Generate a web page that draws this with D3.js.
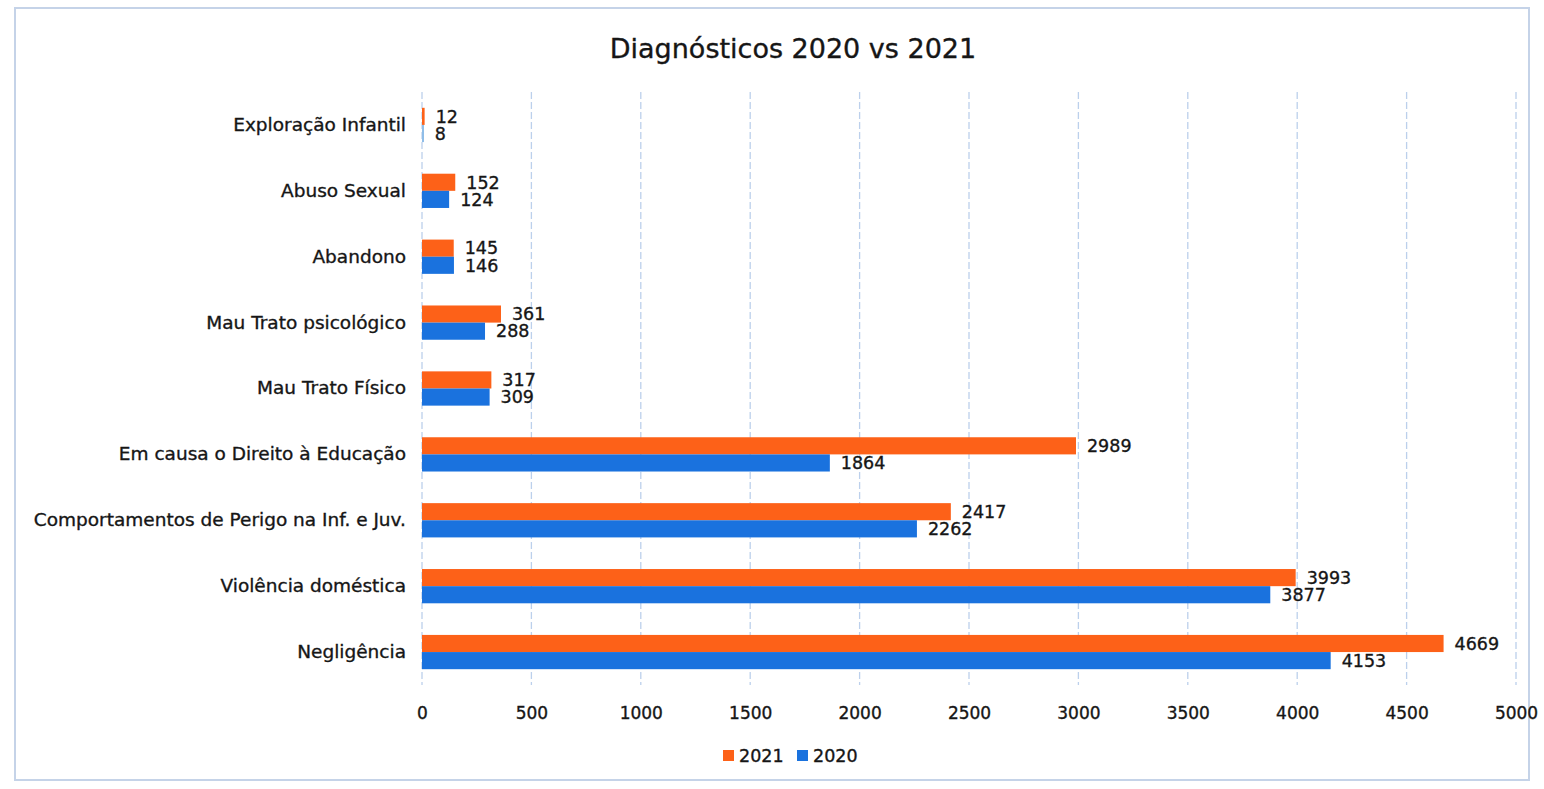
<!DOCTYPE html>
<html>
<head>
<meta charset="utf-8">
<script src="https://cdn.jsdelivr.net/npm/d3@7"></script>
<style>
  body { margin: 0; background: #fff; }
  text { font-family: "DejaVu Sans", Verdana, sans-serif; fill: #161616; stroke: #161616; stroke-width: 0.35px; }
</style>
</head>
<body>
<svg id="chart" width="1544" height="789"></svg>
<script>
// data
var categories = ["Exploração Infantil", "Abuso Sexual", "Abandono", "Mau Trato psicológico",
  "Mau Trato Físico", "Em causa o Direito à Educação", "Comportamentos de Perigo na Inf. e Juv.",
  "Violência doméstica", "Negligência"];
var values2021 = [12, 152, 145, 361, 317, 2989, 2417, 3993, 4669];
var values2020 = [8, 124, 146, 288, 309, 1864, 2262, 3877, 4153];
var seriesNames = ["2021", "2020"];
var tickValues = [0, 500, 1000, 1500, 2000, 2500, 3000, 3500, 4000, 4500, 5000];

var colors = { "2021": "#fd6118", "2020": "#1a72de" };

var margin = { left: 422, right: 28, top: 92, bottom: 104 };
var width = 1544, height = 789;

var svg = d3.select("#chart");

// outer frame
svg.append("rect")
  .attr("x", 15).attr("y", 8)
  .attr("width", 1514).attr("height", 772)
  .attr("fill", "none")
  .attr("stroke", "#c5d3e8")
  .attr("stroke-width", 2);

svg.append("text")
  .attr("x", 793).attr("y", 58)
  .attr("text-anchor", "middle")
  .style("font-size", "27px")
  .text("Diagnósticos 2020 vs 2021");

var x = d3.scaleLinear().domain([0, 5000]).range([margin.left, width - margin.right]);
var y = d3.scaleBand().domain(categories).range([margin.top, height - margin.bottom]).paddingInner(0.48).paddingOuter(0.24);
var ySub = d3.scaleBand().domain(seriesNames).range([0, y.bandwidth()]);

// gridlines
svg.append("g")
  .selectAll("line")
  .data(tickValues)
  .join("line")
  .attr("x1", d => x(d)).attr("x2", d => x(d))
  .attr("y1", margin.top).attr("y2", height - margin.bottom)
  .attr("stroke", "#bcd0ec")
  .attr("stroke-width", 1.3)
  .attr("stroke-dasharray", "7,3");

// x axis labels
var xAxis = d3.axisBottom(x).tickValues(tickValues).tickSize(0).tickPadding(0).tickFormat(d3.format("d"));
var gx = svg.append("g")
  .attr("transform", "translate(0," + (height - margin.bottom + 22) + ")")
  .call(xAxis);
gx.select(".domain").remove();
gx.selectAll("text").style("font-size", "17px").style("font-family", "DejaVu Sans, sans-serif").attr("fill", "#161616");

// category labels
var yAxis = d3.axisLeft(y).tickSize(0).tickPadding(16);
var gy = svg.append("g")
  .attr("transform", "translate(" + margin.left + ",0)")
  .call(yAxis);
gy.select(".domain").remove();
gy.selectAll("text").style("font-size", "18.5px").style("font-family", "DejaVu Sans, sans-serif").attr("fill", "#161616");

var rows = categories.map(function(c, i) {
  return { cat: c, vals: [{ s: "2021", v: values2021[i] }, { s: "2020", v: values2020[i] }] };
});

var groups = svg.append("g").selectAll("g")
  .data(rows)
  .join("g")
  .attr("transform", d => "translate(0," + y(d.cat) + ")");

groups.selectAll("rect")
  .data(d => d.vals)
  .join("rect")
  .attr("x", x(0))
  .attr("y", d => ySub(d.s))
  .attr("width", d => Math.max(x(d.v) - x(0), 2))
  .attr("height", ySub.bandwidth())
  .attr("fill", d => d.s == "2020" && d.v < 20 ? "#8fbde8" : colors[d.s]);

groups.selectAll("text.val")
  .data(d => d.vals)
  .join("text")
  .attr("class", "val")
  .attr("x", d => x(d.v) + 11)
  .attr("y", d => ySub(d.s) + ySub.bandwidth() / 2)
  .attr("dy", "0.36em")
  .style("font-size", "17.5px")
  .text(d => d.v);

// legend
var legend = svg.append("g").attr("transform", "translate(723,756)");
var legItems = legend.selectAll("g")
  .data(seriesNames)
  .join("g")
  .attr("transform", (d, i) => "translate(" + (i * 74) + ",0)");
legItems.append("rect")
  .attr("x", 0).attr("y", -6)
  .attr("width", 11).attr("height", 11)
  .attr("fill", d => colors[d]);
legItems.append("text")
  .attr("x", 16).attr("y", 0)
  .attr("dy", "0.36em")
  .style("font-size", "17.5px")
  .text(d => d);
</script>
</body>
</html>
